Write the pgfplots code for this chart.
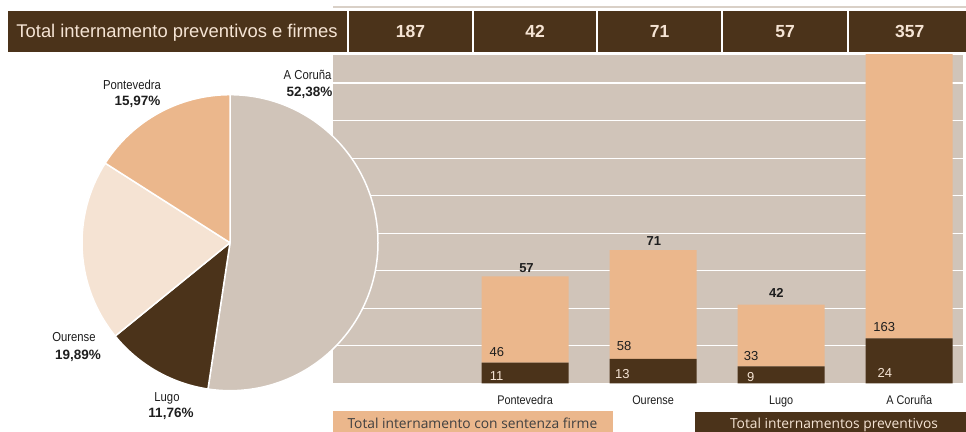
\documentclass[border=0pt]{standalone}
\usepackage{fontspec}
\setmainfont{Liberation Sans}
\newfontfamily\narrow[FakeStretch=0.87]{Liberation Sans}
\newfontfamily\legfont{Open Sans}
\usepackage{pgfplots}
\pgfplotsset{compat=1.18}
\definecolor{dbrown}{RGB}{75,51,26}
\definecolor{peach}{RGB}{235,183,140}
\definecolor{lpeach}{RGB}{245,227,211}
\definecolor{beige}{RGB}{208,196,185}
\definecolor{txtlight}{RGB}{245,228,212}
\definecolor{txtdark}{RGB}{30,30,30}
\tikzset{
  vlab/.style={font=\fontsize{13}{15}\selectfont, anchor=center, inner sep=0pt},
  tlab/.style={font=\bfseries\fontsize{13}{15}\selectfont, anchor=center, inner sep=0pt, text=txtdark},
}
\begin{document}
\begin{tikzpicture}
\path[use as bounding box] (0pt,0pt) rectangle (966pt,431pt);
\begin{axis}[
  at={(333pt,47.7pt)}, anchor=south west,
  scale only axis, width=630pt, height=328.3pt,
  xmin=-0.5, xmax=4.42, ymin=0, ymax=175,
  axis background/.style={fill=beige},
  axis line style={draw=none},
  tick style={draw=none},
  ytick={20,40,60,80,100,120,140,160}, yticklabels={},
  ymajorgrids, grid style={white, line width=1.3pt},
  xtick={1,2,3,4}, xticklabels={Pontevedra,Ourense,Lugo,A Coruña},
  xticklabel style={font=\narrow\fontsize{12.5}{14}\selectfont, text=txtdark, anchor=base, yshift=-21pt},
  ybar stacked, bar width=87pt,
]
\addplot[fill=dbrown, draw=none] coordinates {(1,11) (2,13) (3,9) (4,24)};
\addplot[fill=peach, draw=none] coordinates {(1,46) (2,58) (3,33) (4,163)};
\coordinate (T57) at (axis cs:1.011,61.3);
\coordinate (T71) at (axis cs:2.006,75.9);
\coordinate (T42) at (axis cs:2.9625,48.0);
\coordinate (L46) at (axis cs:0.779,16.8);
\coordinate (L11) at (axis cs:0.777,4.05);
\coordinate (L58) at (axis cs:1.773,19.9);
\coordinate (L13) at (axis cs:1.76,4.8);
\coordinate (L33) at (axis cs:2.766,14.7);
\coordinate (L9) at (axis cs:2.762,3.5);
\coordinate (L163) at (axis cs:3.805,29.85);
\coordinate (L24) at (axis cs:3.81,5.3);
\end{axis}
\node[tlab] at (T57) {57};
\node[tlab] at (T71) {71};
\node[tlab] at (T42) {42};
\node[vlab, text=txtdark] at (L46) {46};
\node[vlab, text=txtlight] at (L11) {11};
\node[vlab, text=txtdark] at (L58) {58};
\node[vlab, text=txtlight] at (L13) {13};
\node[vlab, text=txtdark] at (L33) {33};
\node[vlab, text=txtlight] at (L9) {9};
\node[vlab, text=txtdark] at (L163) {163};
\node[vlab, text=txtlight] at (L24) {24};

% pie chart (shares in percent)
\def\pcx{230pt}\def\pcy{188.3pt}\def\pr{148pt}
\pgfmathsetmacro\aA{90-3.6*52.38}
\pgfmathsetmacro\aB{\aA-3.6*11.76}
\pgfmathsetmacro\aC{\aB-3.6*19.89}
\pgfmathsetmacro\aD{\aC-3.6*15.97}
\filldraw[fill=beige, draw=white, line width=1.5pt, line join=round] (\pcx,\pcy) -- ++(90:\pr) arc[start angle=90, end angle=\aA, radius=\pr] -- cycle;
\filldraw[fill=dbrown, draw=white, line width=1.5pt, line join=round] (\pcx,\pcy) -- ++(\aA:\pr) arc[start angle=\aA, end angle=\aB, radius=\pr] -- cycle;
\filldraw[fill=lpeach, draw=white, line width=1.5pt, line join=round] (\pcx,\pcy) -- ++(\aB:\pr) arc[start angle=\aB, end angle=\aC, radius=\pr] -- cycle;
\filldraw[fill=peach, draw=white, line width=1.5pt, line join=round] (\pcx,\pcy) -- ++(\aC:\pr) arc[start angle=\aC, end angle=\aD, radius=\pr] -- cycle;

\node[inner sep=0pt, text=txtdark, anchor=base east, font=\narrow\fontsize{13}{15}\selectfont] at (331.7pt,351.7pt) {A Coruña};
\node[inner sep=0pt, text=txtdark, anchor=base east, font=\bfseries\fontsize{13.5}{15}\selectfont] at (332.7pt,334.3pt) {52,38\%};
\node[inner sep=0pt, text=txtdark, anchor=base, font=\narrow\fontsize{13}{15}\selectfont] at (132pt,341.7pt) {Pontevedra};
\node[inner sep=0pt, text=txtdark, anchor=base, font=\bfseries\fontsize{13.5}{15}\selectfont] at (137.5pt,325pt) {15,97\%};
\node[inner sep=0pt, text=txtdark, anchor=base, font=\narrow\fontsize{13}{15}\selectfont] at (74pt,89pt) {Ourense};
\node[inner sep=0pt, text=txtdark, anchor=base, font=\bfseries\fontsize{13.5}{15}\selectfont] at (78pt,71.7pt) {19,89\%};
\node[inner sep=0pt, text=txtdark, anchor=base, font=\narrow\fontsize{13}{15}\selectfont] at (167pt,30pt) {Lugo};
\node[inner sep=0pt, text=txtdark, anchor=base, font=\bfseries\fontsize{13.5}{15}\selectfont] at (171pt,13.3pt) {11,76\%};

% header band
\draw[color=beige!80!white, line width=1.5pt] (333pt,424pt) -- (966pt,424pt);
\filldraw[fill=dbrown, draw=white, line width=1.2pt] (7pt,378pt) rectangle (348pt,421pt);
\node[anchor=base, inner sep=0pt, text=txtlight, font=\fontsize{18.4}{20}\selectfont] at (177pt,393pt) {Total internamento preventivos e firmes};
\foreach \xa/\xb in {348/473, 473/597, 597/722, 722/848, 848/975} {
  \filldraw[fill=dbrown, draw=white, line width=1.2pt] (\xa pt,378pt) rectangle (\xb pt,421pt);
}
\foreach \xc/\vv in {410.5/187, 535/42, 659.5/71, 785/57, 909.7/357} {
  \node[anchor=base, inner sep=0pt, text=txtlight, font=\bfseries\fontsize{17.5}{20}\selectfont] at (\xc pt,393.3pt) {\vv};
}

% legend boxes
\fill[peach] (333pt,-2pt) rectangle (613pt,20.3pt);
\node[anchor=base, inner sep=0pt, text=txtdark!85, font=\legfont\fontsize{13.8}{15}\selectfont] at (472.4pt,2.7pt) {Total internamento con sentenza firme};
\fill[dbrown] (695pt,-2pt) rectangle (975pt,19.3pt);
\node[anchor=base, inner sep=0pt, text=txtlight, font=\legfont\fontsize{13.8}{15}\selectfont] at (834pt,2.7pt) {Total internamentos preventivos};
\end{tikzpicture}
\end{document}
